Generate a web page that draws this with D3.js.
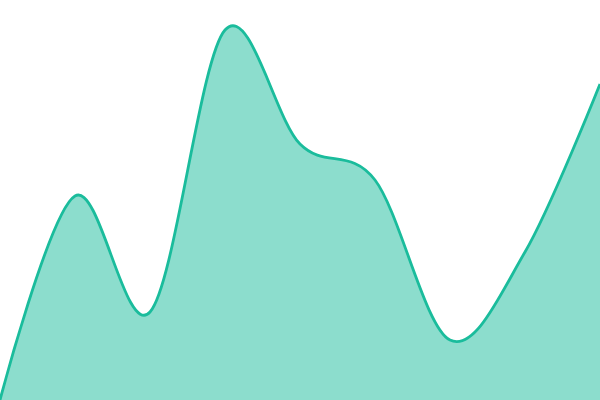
<!DOCTYPE html>
<html>
<head>
<meta charset="utf-8">
<script src="https://cdn.jsdelivr.net/npm/d3@7"></script>
<style>
  body { margin: 0; background: #fff; }
</style>
</head>
<body>
<div id="chart"></div>
<script>
// one point every step
var steps = [0, 1, 2, 3, 4, 5, 6, 7, 8];
var values = [0, 51, 22, 92.5, 64, 55, 15, 37, 79];

var width = 600, height = 400;

var canvas = d3.select("#chart").append("svg")
    .attr("width", width)
    .attr("height", height);

var x = d3.scaleLinear().domain([0, 8]).range([0, width]);
var y = d3.scaleLinear().domain([0, 100]).range([height, 0]);

var data = steps.map(function(s, i){ return {s: s, v: values[i]}; });

var area = d3.area()
    .x(function(d){ return x(d.s); })
    .y0(y(0))
    .y1(function(d){ return y(d.v); })
    .curve(d3.curveCardinal);

var line = d3.line()
    .x(function(d){ return x(d.s); })
    .y(function(d){ return y(d.v); })
    .curve(d3.curveCardinal);

canvas.append("path")
    .datum(data)
    .attr("d", area)
    .attr("fill", "#1abc9c")
    .attr("fill-opacity", 0.5);

canvas.append("path")
    .datum(data)
    .attr("d", line)
    .attr("fill", "none")
    .attr("stroke", "#1abc9c")
    .attr("stroke-width", 2.8);
</script>
</body>
</html>
